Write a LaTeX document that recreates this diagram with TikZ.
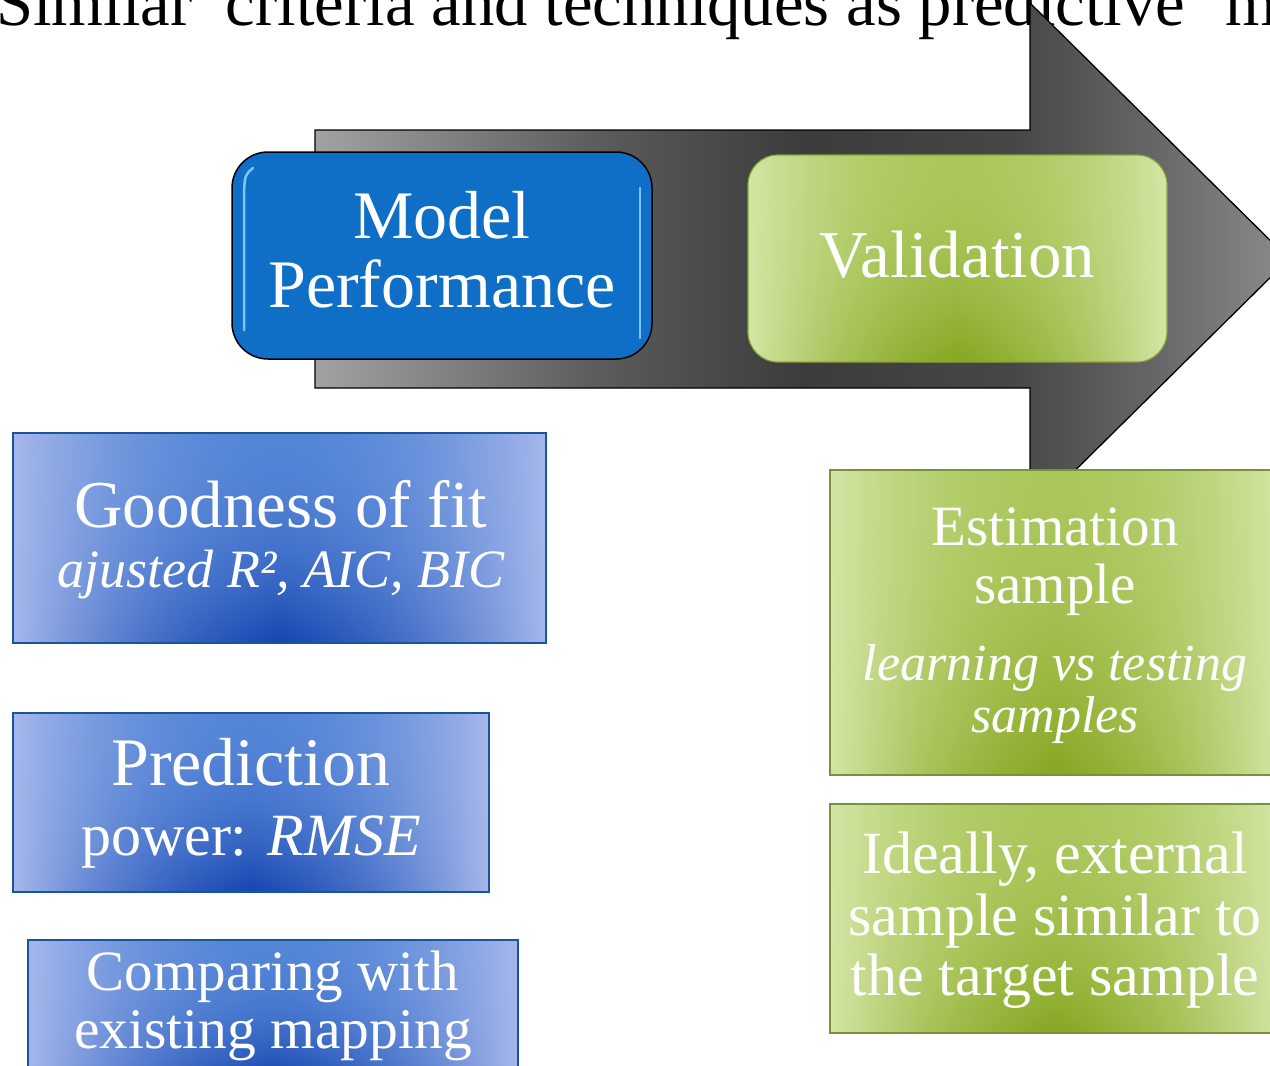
\documentclass[tikz,border=0pt]{standalone}
\usepackage{fontspec}
\setmainfont{Liberation Serif}
\usetikzlibrary{shadings}

\definecolor{mpblue}{HTML}{0F6FC6}
\definecolor{bborder}{HTML}{1A5597}
\definecolor{gborder}{HTML}{76933C}
\definecolor{valborder}{HTML}{86A53A}
\definecolor{hilite}{HTML}{8FD3FF}
\definecolor{arrA}{HTML}{A2A2A2}
\definecolor{arrB}{HTML}{5A5A5A}
\definecolor{arrC}{HTML}{3C3C3C}
\definecolor{arrD}{HTML}{474747}
\definecolor{arrE}{HTML}{666666}
\definecolor{arrF}{HTML}{8C8C8C}

\pgfdeclarehorizontalshading{arrowshade}{100bp}{color(0bp)=(arrA); color(25bp)=(arrA); color(40bp)=(arrB); color(50bp)=(arrC); color(61bp)=(arrD); color(68bp)=(arrE); color(75bp)=(arrF); color(100bp)=(arrF)}

\pgfdeclarefunctionalshading{blueglow}{\pgfpoint{-25bp}{-25bp}}{\pgfpoint{25bp}{25bp}}{}{
 25 exch sub 50 div exch abs 25 div 1 exch sub
 dup 2 exch sub 1 index mul
 3 1 roll exch dup mul mul
 1 index -0.32 mul 0.65 add 1 index -0.24 mul add
 2 index -0.20 mul 0.72 add 2 index -0.25 mul add
 3 index -0.08 mul 0.92 add 3 index -0.15 mul add
 5 3 roll pop pop
}
\pgfdeclarefunctionalshading{greenglow}{\pgfpoint{-25bp}{-25bp}}{\pgfpoint{25bp}{25bp}}{}{
 25 exch sub 50 div exch abs 25 div 1 exch sub
 dup 2 exch sub 1 index mul
 3 1 roll exch dup mul mul
 1 index -0.16 mul 0.83 add 1 index -0.14 mul add
 2 index -0.12 mul 0.90 add 2 index -0.13 mul add
 3 index -0.29 mul 0.65 add 3 index -0.23 mul add
 5 3 roll pop pop
}

\newcommand\fsz[1]{\fontsize{#1}{#1}\selectfont}

\tikzset{
  bluebox/.style={rectangle, draw=bborder, line width=2pt, shade, shading=blueglow, inner sep=0pt, outer sep=0pt},
  greenbox/.style={rectangle, draw=gborder, line width=2pt, shade, shading=greenglow, inner sep=0pt, outer sep=0pt},
  wtext/.style={text=white, inner sep=0pt, anchor=base},
  bigarrow/.style={draw=black, line width=1.3pt, line join=miter, shade, shading=arrowshade},
  hiline/.style={hilite, line width=2.5pt, line cap=round, opacity=0.85},
}

\begin{document}
\begin{tikzpicture}[x=1pt,y=-1pt]
\useasboundingbox (0,0) rectangle (1270,1066);
\clip (0,0) rectangle (1270,1066);
\fill[white] (0,0) rectangle (1270,1066);

% title (cut at top, as in the reference)
\node[anchor=base west, inner sep=0pt, font=\fsz{66.7}] (title) at (-4,25) {Similar\ \ criteria and techniques as predictive\hspace{40pt}models};

% big arrow
\path[bigarrow] (315,130) -- (1030,130) -- (1030,3) -- (1289,259) -- (1030,515) -- (1030,388) -- (315,388) -- cycle;

% Model Performance
\node[rectangle, rounded corners=36pt, fill=mpblue, draw=black, line width=1.5pt, minimum width=420pt, minimum height=207pt, inner sep=0pt] (mp) at (442,255.5) {};
\draw[hiline] (253,168) .. controls (245,175) .. (244,192) -- (244,330);
\draw[hiline] (640,188) -- (640,338);
\node[wtext, font=\fsz{68}] (mp1) at (442,238) {Model};
\node[wtext, font=\fsz{68}] (mp2) at (442,307) {Performance};

% Validation
\node[rectangle, rounded corners=30pt, shade, shading=greenglow, draw=valborder, line width=1.2pt, minimum width=419pt, minimum height=207pt, inner sep=0pt] (val) at (957.5,258.5) {};
\node[wtext, font=\fsz{67}] (val1) at (957.5,277) {Validation};

% Goodness of fit
\node[bluebox, minimum width=533pt, minimum height=210pt] (gof) at (279.5,538) {};
\node[wtext, font=\fsz{67}] (gof1) at (281,527) {Goodness of fit};
\node[wtext, font=\fsz{54}\itshape] (gof2) at (281,587) {ajusted R², AIC, BIC};

% Prediction power
\node[bluebox, minimum width=476pt, minimum height=179pt] (pp) at (251,802.5) {};
\node[wtext, font=\fsz{68}] (pp1) at (251,785) {Prediction};
\node[wtext, font=\fsz{60}] (pp2) at (251,855) {power: \textit{RMSE}};

% Comparing
\node[bluebox, minimum width=490pt, minimum height=140pt] (cmp) at (273,1010) {};
\node[wtext, font=\fsz{57}] (cmp1) at (273,990) {Comparing with};
\node[wtext, font=\fsz{57.5}] (cmp2) at (273,1048) {existing mapping};

% Estimation sample
\node[greenbox, minimum width=450pt, minimum height=305pt] (est) at (1055,622.5) {};
\node[wtext, font=\fsz{57}] (est1) at (1055,545) {Estimation};
\node[wtext, font=\fsz{57}] (est2) at (1055,603) {sample};
\node[wtext, font=\fsz{52}\itshape] (est3) at (1055,680) {learning vs testing};
\node[wtext, font=\fsz{52}\itshape] (est4) at (1055,732) {samples};

% Ideally
\node[greenbox, minimum width=450pt, minimum height=229pt] (ext) at (1055,918.5) {};
\node[wtext, font=\fsz{60}] (ext1) at (1055,873) {Ideally, external};
\node[wtext, font=\fsz{60}] (ext2) at (1055,935) {sample similar to};
\node[wtext, font=\fsz{60}] (ext3) at (1055,995) {the target sample};
\end{tikzpicture}
\end{document}
